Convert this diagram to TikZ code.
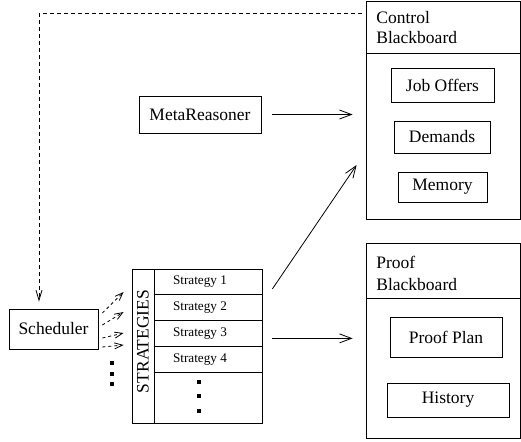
\documentclass[tikz,border=0pt]{standalone}
\usepackage{fontspec}
\setmainfont{Liberation Serif}
\usetikzlibrary{arrows.meta}

\tikzset{
  box/.style={draw, inner sep=0pt},
  title/.style={anchor=base west, align=left, inner sep=0pt},
  small/.style={font=\fontsize{13.2}{15}\selectfont},
  arr/.style={-{Straight Barb[length=12pt,width=9pt]}},
  dasharr/.style={dash pattern=on 4pt off 3pt, -{Straight Barb[length=10pt,width=6pt]}},
  smallarr/.style={dash pattern=on 3pt off 3pt, -{Straight Barb[length=8pt,width=6pt]}}
}

\begin{document}
\begin{tikzpicture}[x=1pt,y=-1pt,line width=0.8pt,font=\fontsize{17.5}{21}\selectfont]
  \useasboundingbox (0,0) rectangle (521,441);

  % control blackboard
  \node[box, minimum width=154pt, minimum height=218pt] (ctrl) at (443,110) {};
	\node[title] (ctrltitle) at (376,43.5) {Control\\[-1pt]Blackboard};
	\draw (ctrl.west |- 0,53) -- (ctrl.east |- 0,53);
	\node[box, minimum width=103pt, minimum height=34pt] (jobs) at (442.5,85) {Job Offers};
	\node[box, minimum width=96pt, minimum height=32pt] (demands) at (442,137) {Demands};
	\node[box, minimum width=89pt, minimum height=30pt] (memory) at (442.5,187) {Memory};

  % proof blackboard
  \node[box, minimum width=154pt, minimum height=195pt] (proof) at (443,340.5) {};
	\node[title] (prooftitle) at (376,290.5) {Proof\\[1pt]Blackboard};
	\draw (proof.west |- 0,298) -- (proof.east |- 0,298);
	\node[box, minimum width=112pt, minimum height=40pt] (plan) at (446,337) {Proof Plan};
	\node[box, minimum width=122pt, minimum height=34pt] (history) at (448,400) {History};

  \node[box, minimum width=122pt, minimum height=37pt] (meta) at (200,114.5) {MetaReasoner};
  \node[box, minimum width=89pt, minimum height=40pt] (sched) at (53.5,329) {Scheduler};

  % strategies
  \node[box, minimum width=22pt, minimum height=154pt] (slabel) at (143,346) {};
	\node[rotate=90, inner sep=0pt] (stext) at ([yshift=4.5pt]slabel.center) {STRATEGIES};
	\foreach \i in {1,...,4} {
	  \node[box, minimum width=108pt, minimum height=25.75pt] (s\i) at (208,{281.875+25.75*(\i-1)}) {};
	  \node[small, anchor=west, inner sep=0pt] (st\i) at ([xshift=19pt]s\i.west) {Strategy \i};
	}
	\node[box, minimum width=108pt, minimum height=51pt] (srest) at (208,397.5) {};
	\foreach \y in {382,396,411} \fill (197,\y-2) rectangle ++(4,4);
	\foreach \y in {363,374,384} \fill (110,\y-2) rectangle ++(4,4);

  % arrows
  \draw[arr, shorten <=11pt, shorten >=13pt] (meta) -- (meta -| ctrl.west);
  \draw[arr] ([shift={(10pt,-7pt)}]s1.east) -- ([shift={(-9pt,-55pt)}]ctrl.west);
  \draw[arr, shorten <=10pt, shorten >=13pt] ([yshift=-5pt]s3.east) -- ([yshift=-5pt]s3.east -| proof.west);
  \draw[dasharr, shorten <=4pt, shorten >=7pt] ([yshift=-13pt]ctrl.north west) -| ([xshift=-14.5pt]sched.north);
  \foreach \a/\b in {16/54, 4/34, -9/13, -18/1}
	  \draw[smallarr] ([shift={(4pt,\a pt)}]sched.east) -- ([shift={(-8pt,\b pt)}]slabel.west);
\end{tikzpicture}
\end{document}
